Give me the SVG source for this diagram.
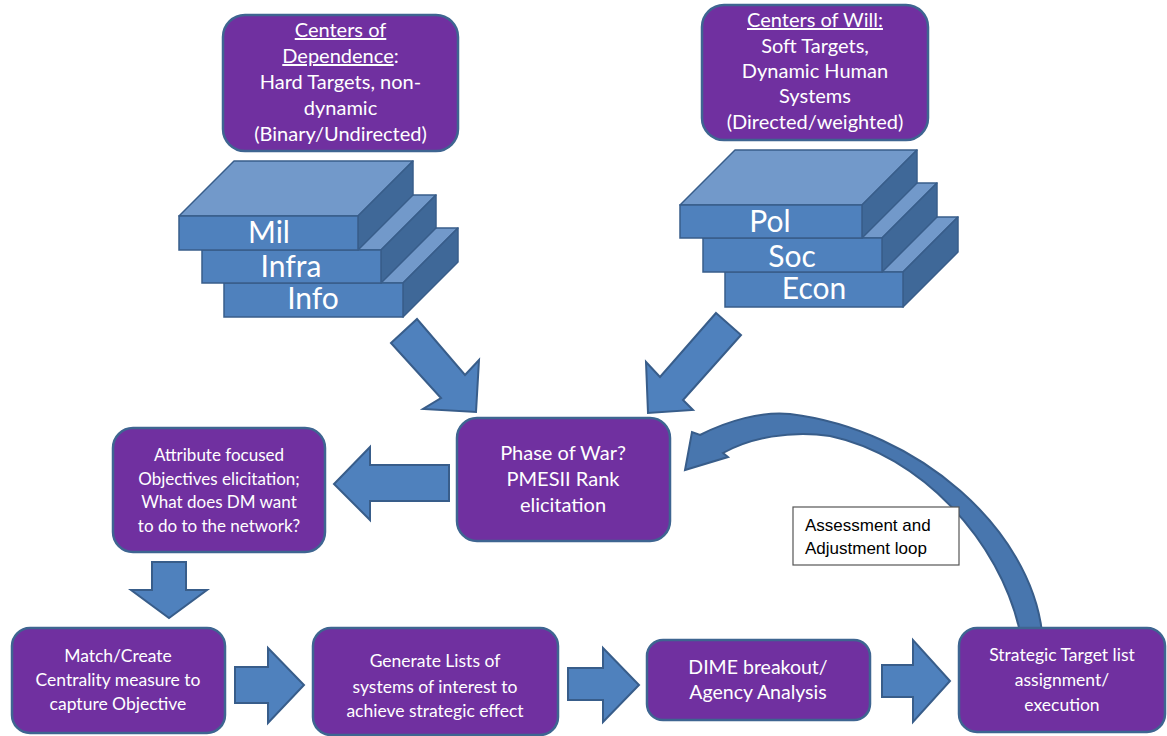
<svg xmlns="http://www.w3.org/2000/svg" width="1167" height="736" viewBox="0 0 1167 736">
<style>
.box{fill:#7030A0;stroke:#3E6591;stroke-width:2.5}
.arrow{fill:#4F81BD;stroke:#385D8A;stroke-width:2;stroke-linejoin:miter}
.curve{fill:#4876AE;stroke:#385D8A;stroke-width:2}
.front{fill:#4F81BD;stroke:#385D8A;stroke-width:1.5}
.top{fill:#7299CA;stroke:#385D8A;stroke-width:1.5;stroke-linejoin:round}
.side{fill:#3F6898;stroke:#385D8A;stroke-width:1.5;stroke-linejoin:round}
.t{font-family:Lato,"Liberation Sans",sans-serif;fill:#FFFFFF;text-anchor:middle}
.big{font-size:30px}
.note{font-family:"Liberation Sans",Arial,sans-serif;font-size:17px;fill:#000}
</style>
<rect width="1167" height="736" fill="#FFFFFF"/>

<g id="connectors">
  <path class="curve" d="M1042,632 C1030,530 920,430 790,414 C762,411 727,421 700,435 L692,432 L685,470 L728,457 L723,453 C750,438 790,430 830,436 C920,455 1000,540 1020,632 Z"/>
  <polygon class="arrow" points="391,343 417,319 465,375 479,360 476,412 423,409 441,398"/>
  <polygon class="arrow" points="716,313 741,335 683,400 693,410 648,413 646,362 660,377"/>
  <polygon class="arrow" points="449,465 370,465 370,447 334,484 370,520 370,501 449,501"/>
  <polygon class="arrow" points="152,562 186,562 186,590 207,590 169,618 131,590 152,590"/>
  <polygon class="arrow" points="235,667 268,667 268,648 304,685 268,723 268,703 235,703"/>
  <polygon class="arrow" points="568,668 603,668 603,648 639,685 603,722 603,700 568,700"/>
  <polygon class="arrow" points="882,665 913,665 913,640 950,681 913,722 913,697 882,697"/>
</g>

<g id="n-dependence">
  <rect class="box" x="223" y="15" width="235" height="136" rx="22"/>
  <text class="t" font-size="20" x="340.5"><tspan x="340.5" y="37" text-decoration="underline">Centers of</tspan><tspan x="340.5" y="63"><tspan text-decoration="underline">Dependence</tspan>:</tspan><tspan x="340.5" y="89">Hard Targets, non-</tspan><tspan x="340.5" y="115">dynamic</tspan><tspan x="340.5" y="141">(Binary/Undirected)</tspan></text>
</g>

<g id="n-will">
  <rect class="box" x="702" y="5" width="226" height="135" rx="22"/>
  <text class="t" font-size="20" x="815"><tspan x="815" y="27" text-decoration="underline">Centers of Will:</tspan><tspan x="815" y="53">Soft Targets,</tspan><tspan x="815" y="78">Dynamic Human</tspan><tspan x="815" y="103">Systems</tspan><tspan x="815" y="129">(Directed/weighted)</tspan></text>
</g>

<g id="n-dependence-stack">
  <polygon class="top" points="224,283 279,228 458,228 403,283"/>
  <polygon class="side" points="403,283 458,228 458,262 403,317"/>
  <rect class="front" x="224" y="283" width="179" height="34"/>
  <polygon class="top" points="202,250 257,195 436,195 381,250"/>
  <polygon class="side" points="381,250 436,195 436,228 381,283"/>
  <rect class="front" x="202" y="250" width="179" height="33"/>
  <polygon class="top" points="179,216 234,161 413,161 358,216"/>
  <polygon class="side" points="358,216 413,161 413,195 358,250"/>
  <rect class="front" x="179" y="216" width="179" height="34"/>
  <text class="t big" x="269" y="243">Mil</text>
  <text class="t big" x="291" y="277">Infra</text>
  <text class="t big" x="313" y="309">Info</text>
</g>

<g id="n-will-stack">
  <polygon class="top" points="725,272 780,217 958,217 903,272"/>
  <polygon class="side" points="903,272 958,217 958,252 903,307"/>
  <rect class="front" x="725" y="272" width="178" height="35"/>
  <polygon class="top" points="703,238 758,183 937,183 882,238"/>
  <polygon class="side" points="882,238 937,183 937,217 882,272"/>
  <rect class="front" x="703" y="238" width="179" height="34"/>
  <polygon class="top" points="680,205 735,150 917,150 862,205"/>
  <polygon class="side" points="862,205 917,150 917,183 862,238"/>
  <rect class="front" x="680" y="205" width="182" height="33"/>
  <text class="t big" x="770" y="232">Pol</text>
  <text class="t big" x="792" y="267">Soc</text>
  <text class="t big" x="814" y="299">Econ</text>
</g>

<g id="n-phase">
  <rect class="box" x="457" y="418" width="213" height="123" rx="20"/>
  <text class="t" font-size="20" x="563"><tspan x="563" y="460">Phase of War?</tspan><tspan x="563" y="486">PMESII Rank</tspan><tspan x="563" y="512">elicitation</tspan></text>
</g>

<g id="n-attribute">
  <rect class="box" x="113" y="428" width="212" height="124" rx="20"/>
  <text class="t" font-size="17" x="219"><tspan x="219" y="461">Attribute focused</tspan><tspan x="219" y="485">Objectives elicitation;</tspan><tspan x="219" y="508">What does DM want</tspan><tspan x="219" y="532">to do to the network?</tspan></text>
</g>

<g id="n-assessment">
  <rect x="793" y="507" width="166" height="58" fill="#FFFFFF" stroke="#555555" stroke-width="1.2"/>
  <text class="note"><tspan x="805" y="531">Assessment and</tspan><tspan x="805" y="554">Adjustment loop</tspan></text>
</g>

<g id="n-match">
  <rect class="box" x="12" y="628" width="213" height="105" rx="18"/>
  <text class="t" font-size="17.5" x="118"><tspan x="118" y="662">Match/Create</tspan><tspan x="118" y="686">Centrality measure to</tspan><tspan x="118" y="710">capture Objective</tspan></text>
</g>

<g id="n-generate">
  <rect class="box" x="313" y="628" width="245" height="107" rx="18"/>
  <text class="t" font-size="17.5" x="435"><tspan x="435" y="667">Generate Lists of</tspan><tspan x="435" y="693">systems of interest  to</tspan><tspan x="435" y="717">achieve strategic effect</tspan></text>
</g>

<g id="n-dime">
  <rect class="box" x="647" y="640" width="223" height="80" rx="16"/>
  <text class="t" font-size="19.5" x="758"><tspan x="758" y="674">DIME breakout/</tspan><tspan x="758" y="699">Agency Analysis</tspan></text>
</g>

<g id="n-strategic">
  <rect class="box" x="959" y="628" width="206" height="104" rx="18"/>
  <text class="t" font-size="17.5" x="1062"><tspan x="1062" y="661">Strategic Target list</tspan><tspan x="1062" y="686">assignment/</tspan><tspan x="1062" y="711">execution</tspan></text>
</g>
</svg>
